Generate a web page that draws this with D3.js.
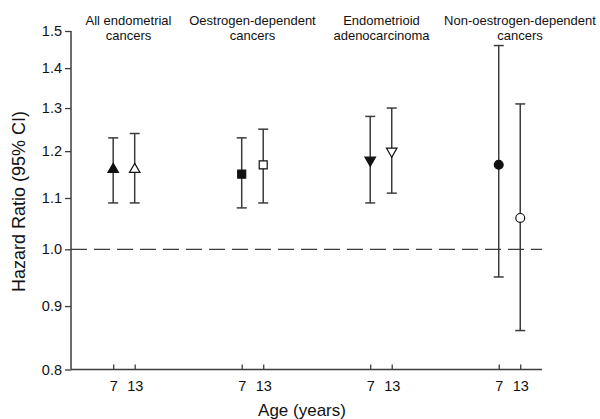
<!DOCTYPE html>
<html>
<head>
<meta charset="utf-8">
<script src="https://cdn.jsdelivr.net/npm/d3@7"></script>
<style>
  html, body { margin: 0; padding: 0; background: #fff; }
  svg { display: block; font-family: Arial, "Liberation Sans", sans-serif; }
</style>
</head>
<body>
<svg id="chart" width="600" height="419"></svg>
<script>
// ---- data ----
const groupLabels = [
  ["All endometrial", "cancers"],
  ["Oestrogen-dependent", "cancers"],
  ["Endometrioid", "adenocarcinoma"],
  ["Non-oestrogen-dependent", "cancers"]
];
const ageLabels = ["7", "13"];
const hrAge7  = [1.16, 1.15, 1.18, 1.17];
const loAge7  = [1.09, 1.08, 1.09, 0.95];
const hiAge7  = [1.23, 1.23, 1.28, 1.46];
const hrAge13 = [1.16, 1.17, 1.20, 1.06];
const loAge13 = [1.09, 1.09, 1.11, 0.86];
const hiAge13 = [1.24, 1.25, 1.30, 1.31];
const yTicks = [0.8, 0.9, 1.0, 1.1, 1.2, 1.3, 1.4, 1.5];
const markerShapes = ["triangle", "square", "triangleDown", "circle"];

(function () {
// ---- layout ----
const svg = d3.select("#chart");
const mLeft = 71, mRight = 542, mTop = 31, mBottom = 369.5;
const axisColor = "#3c3c3c";

const x = d3.scaleLinear().domain([0.588, 4.253]).range([mLeft, mRight]);
const y = d3.scaleLog().domain([0.8, 1.5]).range([mBottom, mTop]);
const offset = 0.0837;

// build points
const points = [];
groupLabels.forEach((g, i) => {
  points.push({g: i, age: 0, pos: i + 1 - offset, hr: hrAge7[i], lo: loAge7[i], hi: hiAge7[i], filled: true});
  points.push({g: i, age: 1, pos: i + 1 + offset, hr: hrAge13[i], lo: loAge13[i], hi: hiAge13[i], filled: false});
});

// reference line at 1.0
svg.append("line")
  .attr("x1", mLeft).attr("x2", mRight)
  .attr("y1", y(1.0)).attr("y2", y(1.0))
  .attr("stroke", axisColor).attr("stroke-width", 1.3)
  .attr("stroke-dasharray", "16,7");

// y axis
const yAxis = d3.axisLeft(y).tickValues(yTicks).tickFormat(d3.format(".1f")).tickSize(6).tickSizeOuter(0);
const gy = svg.append("g").attr("transform", `translate(${mLeft},0)`).call(yAxis);
gy.select(".domain").attr("stroke", axisColor).attr("stroke-width", 1.5).attr("d", `M0,${mTop}V${mBottom}`);
gy.selectAll(".tick line").attr("stroke", axisColor).attr("stroke-width", 1.3);
gy.selectAll(".tick text").attr("font-size", 14.5).attr("fill", "#111").attr("x", -9)
  .attr("font-family", "Arial, 'Liberation Sans', sans-serif");

// x axis
const xAxis = d3.axisBottom(x).tickValues(points.map(p => p.pos))
  .tickFormat((d, i) => ageLabels[i % 2]).tickSize(-5).tickSizeOuter(0).tickPadding(11);
const gx = svg.append("g").attr("transform", `translate(0,${mBottom})`).call(xAxis);
gx.select(".domain").attr("stroke", axisColor).attr("stroke-width", 1.5).attr("d", `M${mLeft},0H${mRight}`);
gx.selectAll(".tick line").attr("stroke", axisColor).attr("stroke-width", 1.3);
gx.selectAll(".tick text").attr("font-size", 14.5).attr("fill", "#111")
  .attr("font-family", "Arial, 'Liberation Sans', sans-serif");

// error bars
const capW = 5;
const eb = svg.append("g").attr("stroke", axisColor).attr("stroke-width", 1.5);
points.forEach(p => {
  const px = x(p.pos);
  eb.append("line").attr("x1", px).attr("x2", px).attr("y1", y(p.lo)).attr("y2", y(p.hi));
  eb.append("line").attr("x1", px - capW).attr("x2", px + capW).attr("y1", y(p.lo)).attr("y2", y(p.lo));
  eb.append("line").attr("x1", px - capW).attr("x2", px + capW).attr("y1", y(p.hi)).attr("y2", y(p.hi));
});

// markers
const symMap = {
  triangle: d3.symbol().type(d3.symbolTriangle).size(48),
  triangleDown: d3.symbol().type(d3.symbolTriangle).size(48),
  square: d3.symbol().type(d3.symbolSquare).size(64),
  circle: d3.symbol().type(d3.symbolCircle).size(62)
};
svg.append("g").selectAll("path").data(points).join("path")
  .attr("d", p => symMap[markerShapes[p.g]]())
  .attr("transform", p => `translate(${x(p.pos)},${y(p.hr)})` + (markerShapes[p.g] === "triangleDown" ? " rotate(180)" : ""))
  .attr("fill", p => p.filled ? "#111" : "#fff")
  .attr("stroke", "#111").attr("stroke-width", 1.2);

// group labels
const labelCenters = [128.5, 252.5, 381.5, 520];
groupLabels.forEach((lines, i) => {
  const t = svg.append("text").attr("text-anchor", "middle").attr("font-size", 13).attr("fill", "#111");
  lines.forEach((ln, j) => {
    t.append("tspan").attr("x", labelCenters[i]).attr("y", 25 + j * 14.5).text(ln);
  });
});

// axis titles
svg.append("text").attr("text-anchor", "middle").attr("font-size", 18).attr("fill", "#111")
  .attr("transform", `translate(25,${(110 + 293) / 2}) rotate(-90)`).text("Hazard Ratio (95% CI)");
svg.append("text").attr("text-anchor", "middle").attr("font-size", 17).attr("fill", "#111")
  .attr("x", 302).attr("y", 416).text("Age (years)");
})();
</script>
</body>
</html>
